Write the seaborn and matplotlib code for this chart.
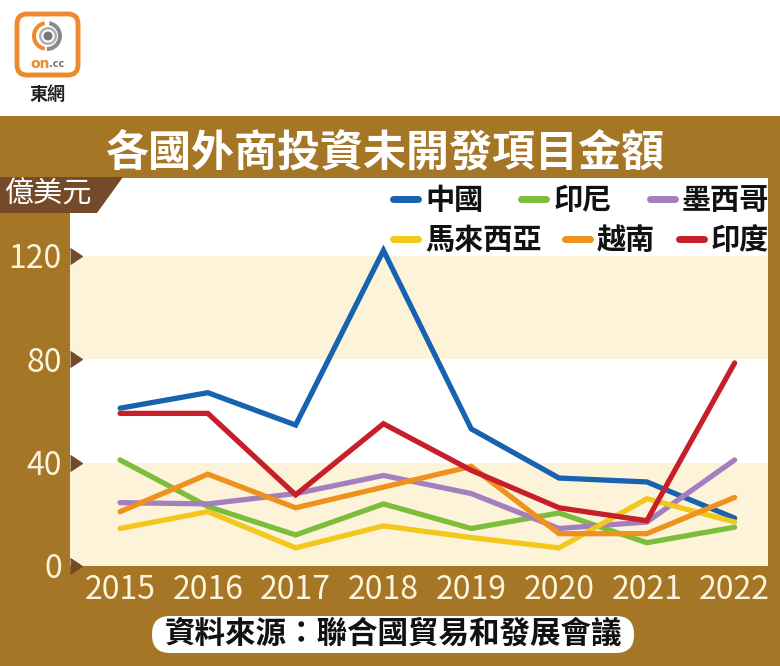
import matplotlib
matplotlib.use("Agg")
import matplotlib.pyplot as plt
import seaborn as sns
import pandas as pd
import numpy as np
from matplotlib.patches import Polygon, FancyBboxPatch, Rectangle, Circle, Wedge
import matplotlib.transforms as mtransforms

# ---------------- data ----------------
years = [2015, 2016, 2017, 2018, 2019, 2020, 2021, 2022]
china = [61, 67, 54.5, 122, 53, 34, 32.5, 18.5]
indonesia = [41, 23, 12, 24, 14.5, 20.5, 9, 15]
mexico = [24.5, 24, 28, 35, 28, 14.5, 17, 41]
malaysia = [14.5, 21, 7, 15.5, 11, 7, 26, 17]
vietnam = [21, 35.5, 22.5, 30.5, 38.5, 12.5, 12.5, 26.5]
india = [59, 59, 27.5, 55, 37, 22.5, 17.5, 78.5]

series_names = ["中國", "印尼", "墨西哥", "馬來西亞", "越南", "印度"]
series_values = [china, indonesia, mexico, malaysia, vietnam, india]
series_colors = ["#1763b0", "#7cbd3b", "#a47fbf", "#f2c81d", "#ef921d", "#c71f2a"]

yticks = [0, 40, 80, 120]
band_ranges = [(0, 40), (80, 120)]

title_text = "各國外商投資未開發項目金額"
unit_text = "億美元"
source_text = "資料來源：聯合國貿易和發展會議"

# ---------------- style ----------------
sns.set_theme(style="white")
plt.rcParams["font.family"] = ["Noto Sans CJK TC", "DejaVu Sans"]

W, H = 780, 666
BROWN = "#a67627"
DARK = "#744a2b"
CREAM = "#fdf4dc"
BAND = "#fcf3d9"

rows = []
for name, vals in zip(series_names, series_values):
    for y, v in zip(years, vals):
        rows.append({"year": y, "value": v, "country": name})
df = pd.DataFrame(rows)

fig = plt.figure(figsize=(W / 100, H / 100), dpi=100)
fig.patch.set_facecolor("white")

# background overlay axes in pixel coords
bg = fig.add_axes([0, 0, 1, 1], zorder=0)
bg.set_xlim(0, W)
bg.set_ylim(H, 0)
bg.axis("off")
bg.add_patch(Rectangle((0, 116), W, H - 116, facecolor=BROWN, edgecolor="none"))

# logo
bg.add_patch(FancyBboxPatch((17, 14), 61, 61, boxstyle="round,pad=0,rounding_size=10",
                            facecolor="white", edgecolor="#ec8a2c", linewidth=3.5))
bg.add_patch(Wedge((47, 36), 15, 100, 260, width=4, facecolor="#ec8a2c", edgecolor="none"))
bg.add_patch(Wedge((47, 36), 15, -80, 90, width=4, facecolor="#8a8a8a", edgecolor="none"))
bg.add_patch(Wedge((48, 36), 9, 0, 360, width=2.5, facecolor="#b0b0b0", edgecolor="none"))
bg.add_patch(Circle((48, 36), 4.5, facecolor="#777777", edgecolor="none"))
bg.text(40, 64, "on", color="#ec8a2c", fontsize=10, fontweight="bold", ha="center", va="center",
        family=["DejaVu Sans"])
bg.text(57, 64, ".cc", color="#777777", fontsize=7, fontweight="bold", ha="center", va="center",
        family=["DejaVu Sans"])
bg.text(47, 94, "東網", color="#222222", fontsize=13, fontweight="bold", ha="center", va="center")

# title
bg.text(385, 153, title_text, color="white", fontsize=31, fontweight="bold",
        ha="center", va="center")

# source box
bg.add_patch(FancyBboxPatch((152, 616), 482, 37, boxstyle="round,pad=0,rounding_size=18",
                            facecolor="white", edgecolor="none"))
bg.text(393, 634, source_text, color="#111111", fontsize=22, fontweight="bold",
        ha="center", va="center")

# ---------------- main axes ----------------
x0, x1, y0, y1 = 70, 768, 178, 566
ax = fig.add_axes([x0 / W, 1 - y1 / H, (x1 - x0) / W, (y1 - y0) / H], zorder=1)
ax.set_facecolor("white")
for lo, hi in band_ranges:
    ax.axhspan(lo, hi, color=BAND, zorder=0, linewidth=0)

sns.lineplot(data=df, x="year", y="value", hue="country", hue_order=series_names,
             palette=dict(zip(series_names, series_colors)), linewidth=3.8,
             solid_capstyle="round", solid_joinstyle="miter", ax=ax, legend=True, zorder=3)

handles, labels = ax.get_legend_handles_labels()
ax.get_legend().remove()

ax.set_xlim(2014.43, 2022.38)
ax.set_ylim(0, 150)
ax.set_xticks(years)
ax.set_xticklabels([str(y) for y in years])
ax.set_yticks(yticks)
ax.set_xlabel("")
ax.set_ylabel("")
for s in ax.spines.values():
    s.set_visible(False)
ax.tick_params(axis="both", length=0, labelcolor=CREAM, labelsize=23)
ax.tick_params(axis="y", pad=6)
ax.tick_params(axis="x", pad=6)

# tick triangles
trans = mtransforms.blended_transform_factory(ax.transAxes, ax.transData)
tri = [(0, -1), (1.5, 0), (0, 1)]
ax.plot([0] * len(yticks), yticks, linestyle="none", marker=tri, markersize=17,
        color=DARK, transform=trans, clip_on=False, zorder=5)

# legends (two rows)
leg_kw = dict(frameon=False, prop={"size": 21, "weight": "bold"}, handlelength=0.86,
              handletextpad=0.24, borderpad=0, borderaxespad=0, loc="center left")
for h in handles:
    h.set_solid_capstyle("round")
leg1 = fig.legend(handles[:3], labels[:3], ncol=3, columnspacing=1.3,
                  bbox_to_anchor=(393 / W, 1 - 200 / H), **leg_kw)
leg2 = fig.legend(handles[3:], labels[3:], ncol=3, columnspacing=0.8,
                  bbox_to_anchor=(393 / W, 1 - 240 / H), **leg_kw)
for leg in (leg1, leg2):
    for t in leg.get_texts():
        t.set_color("#111111")
    for l in leg.get_lines():
        l.set_linewidth(5)
        l.set_solid_capstyle("round")

# unit label box (foreground)
fg = fig.add_axes([0, 0, 1, 1], zorder=4)
fg.set_xlim(0, W)
fg.set_ylim(H, 0)
fg.axis("off")
fg.patch.set_alpha(0)
fg.add_patch(Polygon([(0, 177), (123, 177), (97, 213), (0, 213)], closed=True,
                     facecolor=DARK, edgecolor="none"))
fg.text(48, 195, unit_text, color="white", fontsize=21, ha="center", va="center")

fig.savefig("out.png", dpi=100)
